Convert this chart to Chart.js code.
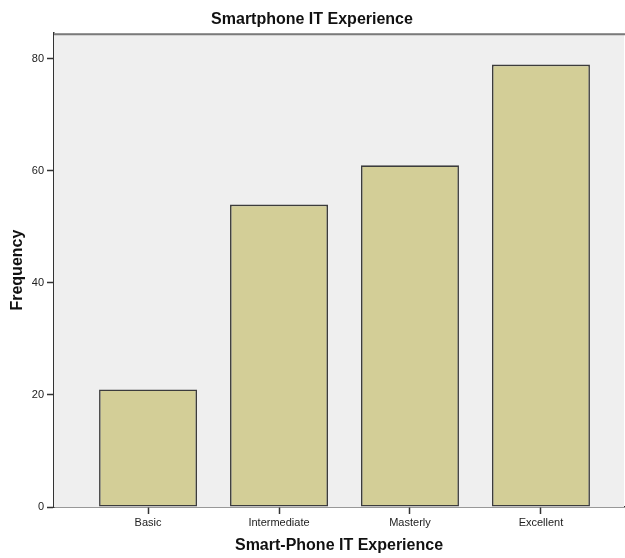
<!DOCTYPE html>
<html>
<head>
<meta charset="utf-8">
<script src="https://cdn.jsdelivr.net/npm/chart.js@4/dist/chart.umd.min.js"></script>
<style>
  html, body { margin: 0; padding: 0; background: #fff; }
  #wrap { width: 625px; height: 558px; }
</style>
</head>
<body>
<div id="wrap"><canvas id="expChart"></canvas></div>
<script>
/*====================================
        DATA
====================================*/

const categories = ["Basic", "Intermediate", "Masterly", "Excellent"];

const frequency = [21, 54, 61, 79];

const yTicks = [0, 20, 40, 60, 80];


/*====================================
        PLOT FRAME (SPSS look)
====================================*/

const plotFrame = {
    id: "plotFrame",
    beforeDatasetsDraw(chart){
        const a = chart.chartArea;
        const ctx = chart.ctx;
        ctx.save();
        ctx.fillStyle = "#efefef";
        ctx.fillRect(a.left, a.top, a.right - a.left, a.bottom - a.top);
        ctx.restore();
    },
    afterDraw(chart){
        const a = chart.chartArea;
        const ctx = chart.ctx;
        ctx.save();
        ctx.strokeStyle = "#7a7a7a";
        ctx.lineWidth = 2;
        ctx.beginPath();
        ctx.moveTo(a.left, a.top + 1);
        ctx.lineTo(a.right + 1, a.top + 1);
        ctx.stroke();
        ctx.restore();
    }
};


/*====================================
        CHART
====================================*/

const expChart = new Chart(

document.getElementById("expChart"),

{

type:"bar",

data:{

datasets:[{

label:"Frequency",

data:categories.map((c, i) => ({ x: i, y: frequency[i] })),

backgroundColor:"#d3ce97",

borderColor:"#3c3c3c",

borderWidth:1.6,

borderSkipped:false,

categoryPercentage:1,

barPercentage:0.748

}]

},

options:{

responsive:true,

maintainAspectRatio:false,

animation:false,

layout:{ padding:{ left:0, right:1, top:0, bottom:0 } },

plugins:{

legend:{ display:false },

tooltip:{ enabled:false },

title:{
display:true,
text:"Smartphone IT Experience",
color:"#111",
font:{ family:"Liberation Sans, Arial", size:16, weight:"bold" },
padding:{ top:10, bottom:4 }
}

},

scales:{

x:{
type:"linear",
offset:false,
min:-0.718,
max:3.634,
afterBuildTicks(scale){
    scale.ticks = categories.map((c, i) => ({ value: i }));
},
afterFit(scale){ scale.height = 51; },
grid:{ offset:false, drawOnChartArea:false, drawTicks:true, tickLength:7, tickWidth:1.5, color:"#333" },
border:{ display:true, color:"#333", width:1.5 },
ticks:{
    color:"#222",
    padding:2,
    maxRotation:0,
    autoSkip:false,
    font:{ family:"Liberation Sans, Arial", size:11 },
    callback:(v) => categories[v]
},
title:{
    display:true,
    text:"Smart-Phone IT Experience",
    color:"#111",
    font:{ family:"Liberation Sans, Arial", size:16, weight:"bold" },
    padding:{ top:0, bottom:3 }
}
},

y:{
min:0,
max:84.6,
afterBuildTicks(scale){
    scale.ticks = yTicks.map(v => ({ value: v }));
},
afterFit(scale){ scale.width = 54; },
grid:{ drawOnChartArea:false, drawTicks:true, tickLength:7, tickWidth:1.5, color:"#333" },
border:{ display:true, color:"#333", width:1.5 },
ticks:{
    color:"#222",
    padding:3,
    font:{ family:"Liberation Sans, Arial", size:11 }
},
title:{
    display:true,
    text:"Frequency",
    color:"#111",
    font:{ family:"Liberation Sans, Arial", size:16, weight:"bold" },
    padding:{ top:8, bottom:0 }
}
}

}

},

plugins:[plotFrame]

});
</script>
</body>
</html>
